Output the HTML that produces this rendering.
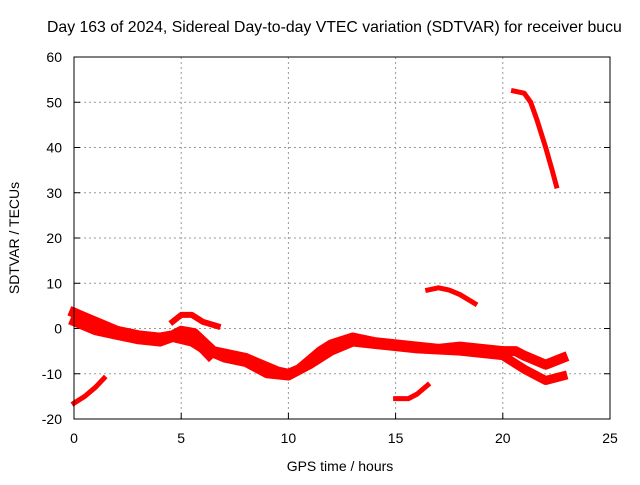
<!DOCTYPE html>
<html><head><meta charset="utf-8"><style>
body{margin:0;background:#fff;overflow:hidden;}
svg text{font-family:"Liberation Sans",sans-serif;font-size:14px;fill:#000;}
</style></head><body>
<svg width="640" height="480" xmlns="http://www.w3.org/2000/svg">
<text x="47" y="32" style="font-size:15.8px">Day 163 of 2024, Sidereal Day-to-day VTEC variation (SDTVAR) for receiver bucu</text>
<g id="grid"></g>
<g id="ticks"></g>
<g id="series"></g>
<rect x="74" y="57" width="536" height="362" fill="none" stroke="#000"/>
<text x="340" y="471" text-anchor="middle">GPS time / hours</text>
<text x="19" y="238" text-anchor="middle" transform="rotate(-90 19 238)">SDTVAR / TECUs</text>
</svg>
<script>
const xTicks=[0,5,10,15,20,25];
const yTicks=[-20,-10,0,10,20,30,40,50,60];
const seriesMainUpper=[[0,3.5],[0.5,2.5],[1,1.5],[2,-0.5],[3,-1.5],[4,-2],[4.6,-1.5],[5,-0.5],[5.6,-1],[6.5,-5],[7,-5.5],[8,-6.5],[9,-8.5],[9.5,-9.5],[10,-10],[10.5,-9],[11,-7],[11.5,-5],[12,-3.5],[13,-2],[14,-3],[15,-3.5],[16,-4],[17,-4.5],[18,-4],[19,-4.5],[20,-5],[20.6,-5],[21,-6],[22,-8],[22.8,-6.5]];
const seriesMainLower=[[0,1.5],[1,-0.5],[2,-1.5],[3,-2.5],[4,-3],[4.6,-2],[5.5,-3],[6,-4.5],[7,-6.5],[8,-7.5],[9,-10],[10,-10.5],[11,-8],[12,-5],[13,-3],[14,-3.5],[16,-4.5],[18,-5],[20,-6],[21,-9],[22,-11.5],[22.8,-10.5]];
const seriesHump=[[4.6,1.5],[5,3],[5.5,3],[6,1.5],[6.7,0.5]];
const seriesBranch=[[5,-0.5],[5.5,-2.5],[6,-5],[6.3,-6.5]];
const seriesLowStart=[[0,-16.5],[0.5,-15],[1,-13],[1.4,-11]];
const seriesMidLow=[[15,-15.5],[15.6,-15.5],[16,-14.5],[16.5,-12.5]];
const seriesMidHigh=[[16.5,8.5],[17,9],[17.5,8.5],[18,7.5],[18.7,5.5]];
const seriesHigh=[[20.5,52.5],[21,52],[21.3,50],[21.6,46],[22,40],[22.3,35],[22.5,31.5]];
const allSeries=[[seriesMainUpper,10],[seriesMainLower,9],[seriesHump,6],[seriesBranch,6],[seriesLowStart,5],[seriesMidLow,5],[seriesMidHigh,5],[seriesHigh,5]];
const X=h=>74+h*536/25, Y=v=>57+(60-v)*362/80;
const NS="http://www.w3.org/2000/svg";
const grid=document.getElementById('grid'),ticks=document.getElementById('ticks'),ser=document.getElementById('series');
function mk(tag,attrs,parent){const e=document.createElementNS(NS,tag);for(const k in attrs)e.setAttribute(k,attrs[k]);parent.appendChild(e);return e;}
xTicks.forEach(t=>{const x=X(t);
 if(t>0&&t<25){const l=mk('line',{x1:x,x2:x,y1:57,y2:419,stroke:'#999','stroke-dasharray':'2,3'},grid);}
 const tl=mk('line',{x1:x,x2:x,y1:419,y2:413,stroke:'#000'},ticks);
 const tx=mk('text',{x:x,y:443,'text-anchor':'middle'},ticks);tx.textContent=t;});
yTicks.forEach(t=>{const y=Y(t);
 if(t>-20&&t<60){const l=mk('line',{x1:74,x2:610,y1:y,y2:y,stroke:'#999','stroke-dasharray':'2,3'},grid);}
 const tl=mk('line',{x1:74,x2:80,y1:y,y2:y,stroke:'#000'},ticks);
 const tr=mk('line',{x1:604,x2:610,y1:y,y2:y,stroke:'#000'},ticks);
 const tx=mk('text',{x:62,y:y+5,'text-anchor':'end'},ticks);tx.textContent=t;});
allSeries.forEach(([pts,w])=>{
 const p=mk('polyline',{points:pts.map(q=>X(q[0])+','+Y(q[1])).join(' '),fill:'none',stroke:'#f00','stroke-width':w,'stroke-linejoin':'round','stroke-linecap':'square'},ser);
 
 
});
</script>
</body></html>
